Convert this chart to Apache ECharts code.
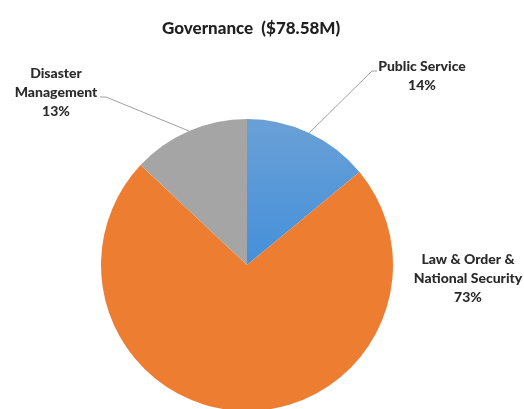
<!DOCTYPE html>
<html>
<head>
<meta charset="utf-8">
<script src="https://cdn.jsdelivr.net/npm/echarts@6/dist/echarts.min.js"></script>
<style>
  html, body { margin: 0; padding: 0; background: #fff; }
  #chart { width: 524px; height: 409px; }
</style>
</head>
<body>
<div id="chart"></div>
<script>
// Governance budget split by sector (share of total, %)
const chartTitle = 'Governance  ($78.58M)';
const categories = ['Public Service', 'Law & Order &\nNational Security', 'Disaster\nManagement'];
const shares = [14, 73, 13];
const colors = [
  new echarts.graphic.LinearGradient(0, 0, 0, 1, [
    { offset: 0, color: '#6AA0D6' },
    { offset: 1, color: '#4490DA' }
  ]),
  '#ED7D31',
  '#A5A5A5'
];

// Label placement: text block centre-top, plus the elbow of each leader line
const labelPlaces = [
  { x: 422, y: 57, line: [[372, 71], [377, 71]] },
  { x: 468, y: 250, line: null },
  { x: 56, y: 64, line: [[106, 97], [100, 97]] }
];

const chart = echarts.init(document.getElementById('chart'));
chart.setOption({
  animation: false,
  title: {
    text: chartTitle,
    left: 157,
    top: 15,
    textStyle: { fontFamily: 'Lato', fontWeight: 900, fontSize: 17, color: '#1f1f1f' }
  },
  series: [{
    type: 'pie',
    center: [247, 265],
    radius: 146,
    startAngle: 90,
    clockwise: true,
    avoidLabelOverlap: false,
    data: categories.map((name, i) => ({
      name: name,
      value: shares[i],
      itemStyle: { color: colors[i] },
      labelLine: { show: labelPlaces[i].line !== null }
    })),
    label: {
      show: true,
      position: 'outside',
      formatter: p => p.name + '\n' + Math.round(p.percent) + '%',
      fontFamily: 'Lato',
      fontWeight: 900,
      fontSize: 14,
      lineHeight: 19,
      color: '#2b2b2b',
      align: 'center'
    },
    labelLine: {
      lineStyle: { color: '#A0A0A0', width: 1 }
    },
    labelLayout: function (params) {
      const place = labelPlaces[params.dataIndex];
      const out = { x: place.x, y: place.y, align: 'center', verticalAlign: 'top' };
      if (place.line && params.labelLinePoints) {
        out.labelLinePoints = [params.labelLinePoints[0]].concat(place.line);
      }
      return out;
    }
  }]
});
</script>
</body>
</html>
